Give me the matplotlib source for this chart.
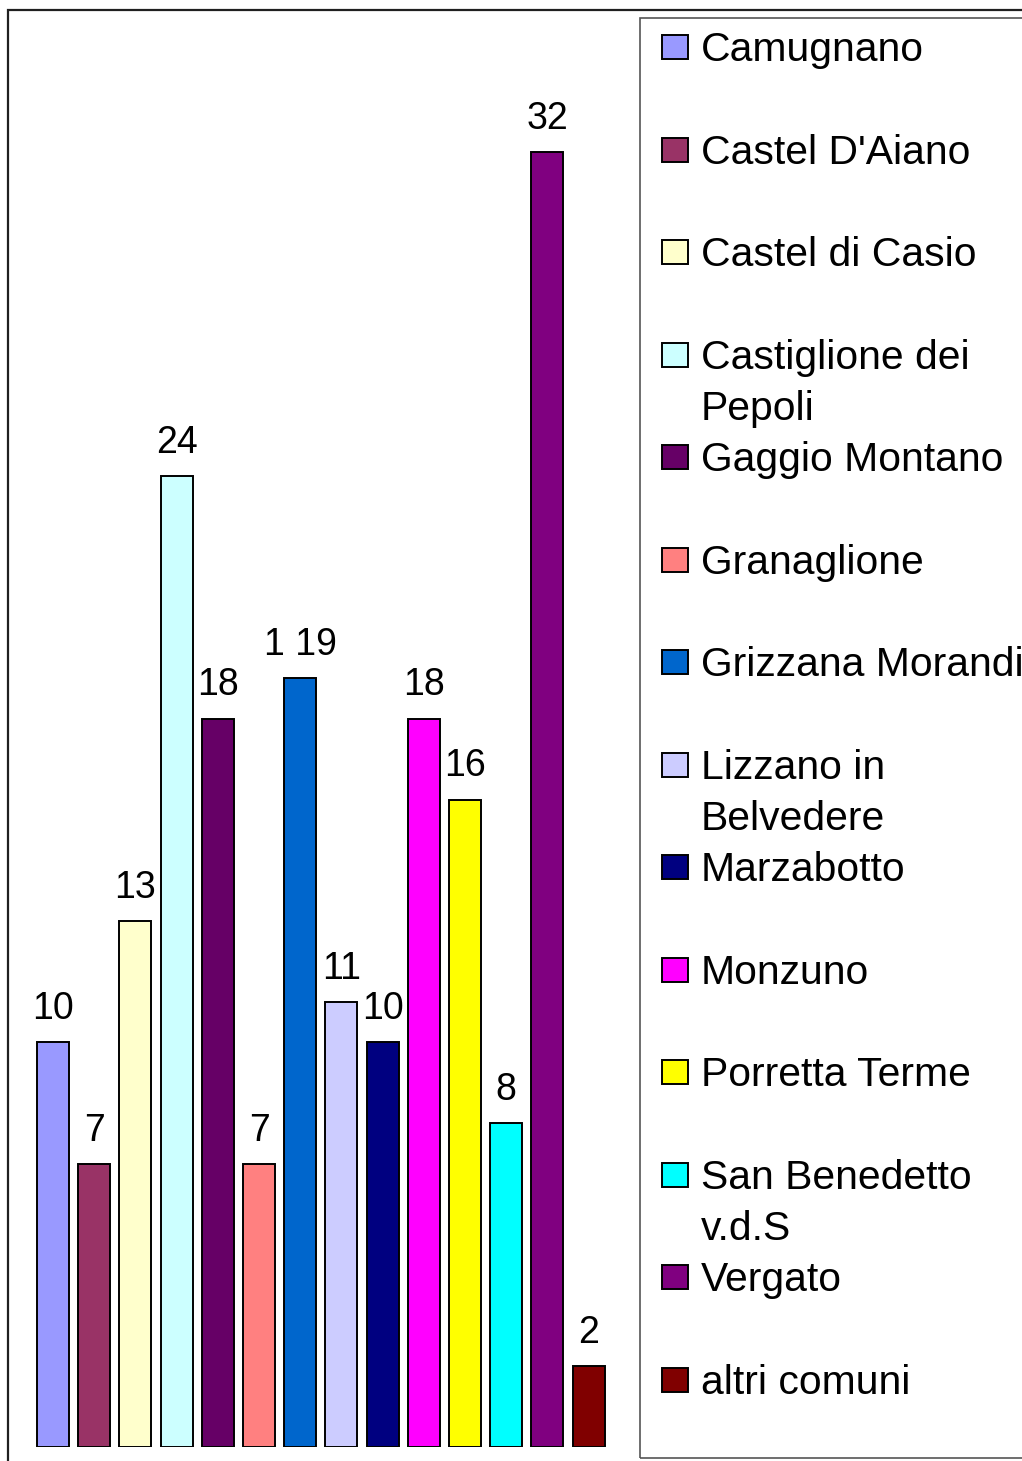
import matplotlib
matplotlib.use("Agg")
import matplotlib.pyplot as plt
from matplotlib.patches import Rectangle

plt.rcParams['font.family'] = ['Liberation Sans', 'DejaVu Sans']

# data
comuni = ["Camugnano", "Castel D'Aiano", "Castel di Casio", "Castiglione dei\nPepoli",
          "Gaggio Montano", "Granaglione", "Grizzana Morandi", "Lizzano in\nBelvedere",
          "Marzabotto", "Monzuno", "Porretta Terme", "San Benedetto\nv.d.S",
          "Vergato", "altri comuni"]
valori = [10, 7, 13, 24, 18, 7, 19, 11, 10, 18, 16, 8, 32, 2]
etichette = ["10", "7", "13", "24", "18", "7", "1 19", "11", "10", "18", "16", "8", "32", "2"]
colori = ["#9999FF", "#993366", "#FFFFCC", "#CCFFFF", "#660066", "#FF8080", "#0066CC",
          "#CCCCFF", "#000080", "#FF00FF", "#FFFF00", "#00FFFF", "#800080", "#800000"]

W, H = 1022, 1461
fig = plt.figure(figsize=(W / 100, H / 100), dpi=100)

def fx(px):
    return px / W

def fy(py):
    return 1 - py / H

# outer chart frame
fig.patches.append(Rectangle((fx(8), fy(1475)), fx(1060) - fx(8), fy(10) - fy(1475),
                             transform=fig.transFigure, fill=False, edgecolor='#202020',
                             linewidth=1.6, zorder=0))

# bar area
left, right, top, bottom = 8, 630, 10, 1447
ax = fig.add_axes([fx(left), fy(bottom), fx(right) - fx(left), fy(top) - fy(bottom)])
ax.set_facecolor('none')
scale = 40.46
ax.set_ylim(0, (bottom - top) / scale)
x0 = (left - 53) / 41.2
ax.set_xlim(x0, x0 + (right - left) / 41.2)
for s in ax.spines.values():
    s.set_visible(False)
ax.set_xticks([])
ax.set_yticks([])

xs = list(range(len(valori)))
ax.bar(xs, valori, width=0.78, color=colori, edgecolor='black', linewidth=1.4, zorder=3)
for x, v, t in zip(xs, valori, etichette):
    ax.annotate(t, (x, v), xytext=(0, 11), textcoords='offset points',
                ha='center', va='bottom', fontsize=27)

# legend
fig.patches.append(Rectangle((fx(640), fy(1458)), fx(1060) - fx(640), fy(18) - fy(1458),
                             transform=fig.transFigure, fill=False, edgecolor='#555555',
                             linewidth=1.2, zorder=1))
for k, (nome, c) in enumerate(zip(comuni, colori)):
    yc = 47 + 102.54 * k
    fig.patches.append(Rectangle((fx(662), fy(yc + 12)), fx(688) - fx(662), fy(yc - 12) - fy(yc + 12),
                                 transform=fig.transFigure, facecolor=c, edgecolor='black',
                                 linewidth=1.4, zorder=2))
    for j, riga in enumerate(nome.split("\n")):
        fig.text(fx(701), fy(yc + 3 + 51 * j), riga, fontsize=29.4, va='center', ha='left')

fig.savefig("out.png", dpi=100)
